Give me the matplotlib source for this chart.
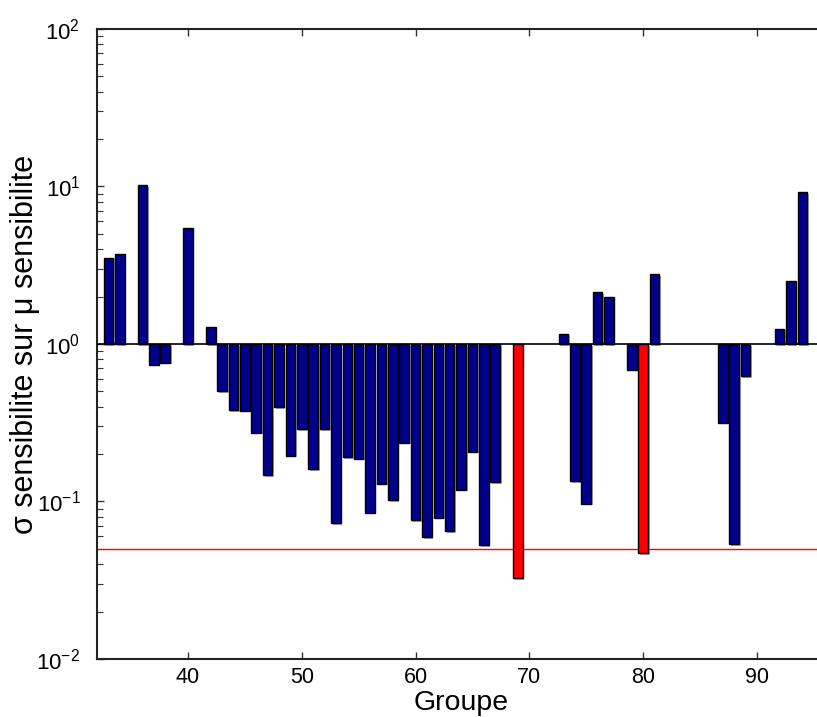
import matplotlib
matplotlib.use("Agg")
import matplotlib.pyplot as plt
import matplotlib.patheffects as pe
from matplotlib.ticker import LogLocator, FixedLocator

plt.rcParams['font.family'] = ['Liberation Sans', 'DejaVu Sans']
plt.rcParams['mathtext.fontset'] = 'custom'
plt.rcParams['mathtext.rm'] = 'Liberation Sans'
plt.rcParams['mathtext.it'] = 'Liberation Sans:italic'

groups = [33, 34, 36, 37, 38, 40, 42, 43, 44, 45, 46, 47, 48, 49, 50, 51, 52,
          53, 54, 55, 56, 57, 58, 59, 60, 61, 62, 63, 64, 65, 66, 67, 69,
          73, 74, 75, 76, 77, 79, 80, 81, 87, 88, 89, 92, 93, 94]
values = [3.54, 3.71, 10.2, 0.738, 0.76, 5.47, 1.28, 0.50, 0.379, 0.378, 0.274,
          0.147, 0.396, 0.195, 0.288, 0.161, 0.288,
          0.073, 0.191, 0.187, 0.085, 0.130, 0.1015, 0.236, 0.0764, 0.0593,
          0.079, 0.0647, 0.119, 0.2076, 0.0527, 0.133, 0.0326,
          1.16, 0.134, 0.097, 2.14, 1.98, 0.687, 0.047, 2.78,
          0.317, 0.0535, 0.625, 1.25, 2.52, 9.2]
highlight = [69, 80]
threshold = 0.05
baseline = 1.0
xticks = [40, 50, 60, 70, 80, 90]
yticks = [1e-2, 1e-1, 1e0, 1e1, 1e2]
ytick_labels = [r'$10^{-2}$', r'$10^{-1}$', r'$10^{0}$', r'$10^{1}$', r'$10^{2}$']

fig = plt.figure(figsize=(8.17, 7.17), dpi=100)
ax = fig.add_axes([0.1187, 0.0809, 0.8913, 0.8787])

colors = ['#ff0000' if g in highlight else '#00008c' for g in groups]
heights = [v - baseline for v in values]
bars = ax.bar(groups, heights, bottom=baseline, width=0.84, color=colors,
              edgecolor='black', linewidth=1.0, zorder=3)
for b in bars:
    b.set_path_effects([pe.SimplePatchShadow(offset=(1.2, -1.2), shadow_rgbFace='#888888', alpha=0.7),
                        pe.Normal()])

ax.axhline(baseline, color='black', linewidth=1.2, zorder=4)
ax.axhline(threshold, color='red', linewidth=1.0, zorder=2)

ax.set_yscale('log')
ax.set_ylim(1e-2, 1e2)
ax.set_xlim(32, 96)

ax.yaxis.set_major_locator(FixedLocator(yticks))
ax.set_yticklabels(ytick_labels)
ax.yaxis.set_minor_locator(LogLocator(base=10, subs=range(2, 10)))
ax.xaxis.set_major_locator(FixedLocator(xticks))
ax.set_xticklabels([str(t) for t in xticks])

ax.tick_params(axis='both', which='both', direction='in', top=True, right=True,
               color='#333333')
ax.tick_params(axis='both', which='major', length=5, width=1.0, labelsize=15.5)
ax.tick_params(axis='y', which='major', pad=12, labelsize=16)
ax.tick_params(axis='x', which='major', pad=6)
ax.tick_params(axis='y', which='minor', length=4, width=0.8)

for s in ['left', 'bottom', 'top']:
    ax.spines[s].set_linewidth(1.5)
    ax.spines[s].set_color('#222222')
ax.spines['right'].set_visible(False)

ax.set_xlabel('Groupe', fontsize=20.5)
ax.set_ylabel('σ sensibilite sur μ sensibilite', fontsize=22)
ax.xaxis.set_label_coords(0.5, -0.050)
ax.yaxis.set_label_coords(-0.078, 0.5)

fig.savefig('out.png', dpi=100)
